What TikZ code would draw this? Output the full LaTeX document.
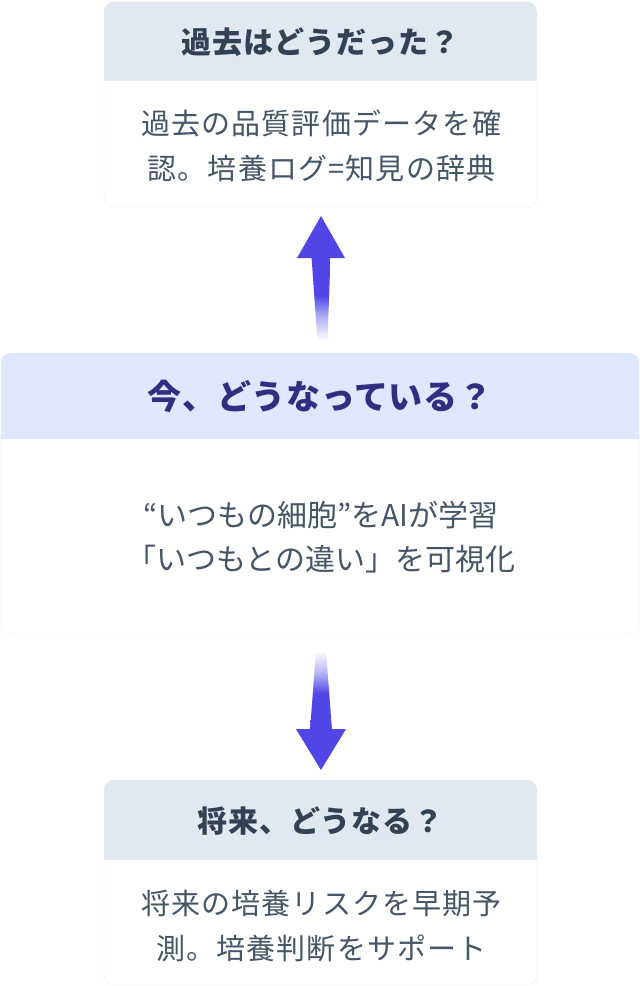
\documentclass[tikz,border=0pt]{standalone}
\usepackage{fontspec}
\usepackage{xcolor}
\usepackage{tikz}
\usetikzlibrary{calc}
\setmainfont{Noto Sans CJK JP}
\definecolor{cardhead}{HTML}{E2E8F0}
\definecolor{nowhead}{HTML}{E0E7FF}
\definecolor{titleslate}{HTML}{334155}
\definecolor{bodyslate}{HTML}{475569}
\definecolor{nowindigo}{HTML}{312E81}
\definecolor{arrowindigo}{HTML}{4F46E5}
\definecolor{cardline}{HTML}{ECEFF3}
\pgfdeclareverticalshading{shaftup}{100bp}{color(0bp)=(white); color(25bp)=(white); color(40bp)=(arrowindigo!45!white); color(52bp)=(arrowindigo); color(100bp)=(arrowindigo)}
\pgfdeclareverticalshading{shaftdown}{100bp}{color(0bp)=(arrowindigo); color(48bp)=(arrowindigo); color(60bp)=(arrowindigo!45!white); color(75bp)=(white); color(100bp)=(white)}
\tikzset{
  cardbox/.style={draw=cardline,fill=white,rounded corners=10pt},
  cardtitle/.style={font=\fontsize{30}{34}\selectfont\bfseries\addfontfeature{LetterSpace=3},text=titleslate},
  cardbody/.style={font=\fontsize{29}{45}\selectfont\addfontfeature{LetterSpace=4},text=bodyslate,align=center},
  nowtitle/.style={font=\fontsize{34}{38}\selectfont\bfseries\addfontfeature{LetterSpace=2},text=nowindigo},
  nowbody/.style={font=\fontsize{30}{44}\selectfont,text=bodyslate,align=center},
}

\begin{document}
\begin{tikzpicture}[x=1pt,y=-1pt]
\useasboundingbox(0,0)rectangle(640,986);
\fill[white](0,0)rectangle(640,986);
% cards
\coordinate(P1)at(104,2);\coordinate(P2)at(537,207);
\coordinate(N1)at(1,353);\coordinate(N2)at(639,634);
\coordinate(F1)at(104,780);\coordinate(F2)at(537,985);
\draw[cardbox](P1)rectangle(P2);\draw[cardbox](N1)rectangle(N2);\draw[cardbox](F1)rectangle(F2);
\begin{scope}\clip[rounded corners=10pt](P1)rectangle(P2);\fill[cardhead](P1)rectangle(537,81);\end{scope}
\begin{scope}\clip[rounded corners=10pt](N1)rectangle(N2);\fill[nowhead](N1)rectangle(639,439);\end{scope}
\begin{scope}\clip[rounded corners=10pt](F1)rectangle(F2);\fill[cardhead](F1)rectangle(537,860);\end{scope}
% texts
\node[cardtitle](pasttitle)at(320.5,42){過去はどうだった？};
\node[cardbody](pastbody)at(321.5,146){過去の品質評価データを確\\認。培養ログ=知見の辞典};
\node[nowtitle](nowtitle)at(320,396){今、どうなっている？};
\node[nowbody](nowbody)at(321,537){“いつもの細胞”をAIが学習\\「いつもとの違い」を可視化};
\node[cardtitle](futtitle)at(320.5,821){将来、どうなる？};
\node[cardbody](futbody)at(321.5,926){将来の培養リスクを早期予\\測。培養判断をサポート};
% arrows
\coordinate(Ut)at(321,216);\coordinate(Ul)at(297,258);\coordinate(Ur)at(345,258);
\coordinate(Dt)at(321,770);\coordinate(Dl)at(296,729);\coordinate(Dr)at(346,729);
\shade[shading=shaftup](311.5,257)--(330.5,257)--(327.5,341)--(317.5,341)--cycle;
\fill[arrowindigo](Ut)--(Ur)--(Ul)--cycle;
\shade[shading=shaftdown](316,651)--(326,651)--(332,730)--(310,730)--cycle;
\fill[arrowindigo](Dt)--(Dl)--(Dr)--cycle;
\end{tikzpicture}
\end{document}
